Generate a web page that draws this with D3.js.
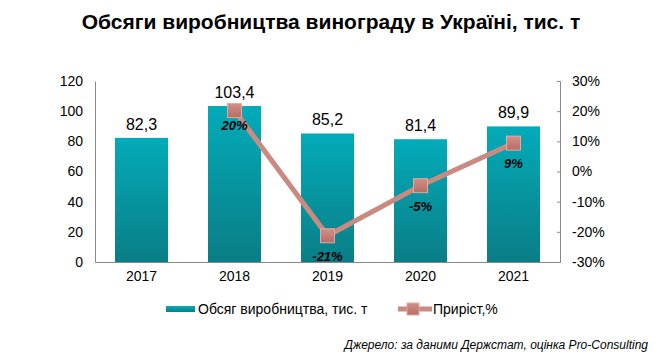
<!DOCTYPE html>
<html><head><meta charset="utf-8">
<script src="https://cdn.jsdelivr.net/npm/d3@7"></script>
<style>body{margin:0;background:#fff;}svg{display:block;font-family:"Liberation Sans",Arial,sans-serif;}</style>
</head><body>
<svg id="c" width="661" height="362"></svg>
<script>
const years = ["2017","2018","2019","2020","2021"];
const volume = [82.3, 103.4, 85.2, 81.4, 89.9];
const growth = [null, 20.2, -21.3, -4.7, 9.4];
const leftTicks = [0,20,40,60,80,100,120];
const rightTicks = [-30,-20,-10,0,10,20,30];

const svg = d3.select("#c");
const L = 95, R = 560, T = 81, B = 262;
const x = d3.scaleBand().domain(years).range([L,R]).paddingInner(0.43).paddingOuter(0.215);
const y = d3.scaleLinear().domain([0,120]).range([B,T]);
const y2 = d3.scaleLinear().domain([-30,30]).range([B,T]);
const pct = d => d3.format(".0f")(d).replace("\u2212","-") + "%";

const defs = svg.append("defs");
const g1 = defs.append("linearGradient").attr("id","bg").attr("x1",0).attr("y1",0).attr("x2",0).attr("y2",1);
g1.append("stop").attr("offset","0%").attr("stop-color","#03abb9");
g1.append("stop").attr("offset","100%").attr("stop-color","#0a7e86");
const g2 = defs.append("linearGradient").attr("id","mg").attr("x1",0).attr("y1",0).attr("x2",0).attr("y2",1);
g2.append("stop").attr("offset","0%").attr("stop-color","#d08f86");
g2.append("stop").attr("offset","100%").attr("stop-color","#b76d64");

svg.append("text").attr("x",331).attr("y",29).attr("text-anchor","middle")
  .attr("font-size",21).attr("font-weight","bold").attr("fill","#000")
  .text("Обсяги виробництва винограду в Україні, тис. т");

// bars
svg.selectAll("rect.bar").data(volume).enter().append("rect").attr("class","bar")
  .attr("x",(d,i)=>x(years[i])).attr("width",x.bandwidth())
  .attr("y",d=>y(d)).attr("height",d=>B-y(d)).attr("fill","url(#bg)");

svg.selectAll("text.vl").data(volume).enter().append("text").attr("class","vl")
  .attr("x",(d,i)=>x(years[i])+x.bandwidth()/2).attr("y",d=>y(d)-8)
  .attr("text-anchor","middle").attr("font-size",16).attr("fill","#000")
  .text(d=>d3.format(".1f")(d).replace(".",","));

// axes
const axL = svg.append("g").attr("transform",`translate(${L},0)`)
  .call(d3.axisLeft(y).tickValues(leftTicks).tickSize(0).tickPadding(12));
const axR = svg.append("g").attr("transform",`translate(${R},0)`)
  .call(d3.axisRight(y2).tickValues(rightTicks).tickSize(-3).tickPadding(12).tickFormat(pct));
const axB = svg.append("g").attr("transform",`translate(0,${B})`)
  .call(d3.axisBottom(x).tickSize(0).tickPadding(9));
[axL,axR,axB].forEach(a=>{
  a.select(".domain").attr("stroke","#898989");
  a.selectAll(".tick line").attr("stroke","#898989");
  a.selectAll("text").attr("font-size",14).attr("fill","#000").attr("font-family","Liberation Sans, Arial, sans-serif");
});

// line
const pts = growth.map((d,i)=>({d,i})).filter(p=>p.d!==null);
const line = d3.line().x(p=>x(years[p.i])+x.bandwidth()/2).y(p=>y2(p.d));
svg.append("path").datum(pts).attr("d",line).attr("fill","none")
  .attr("stroke","#c98a82").attr("stroke-width",5);
svg.selectAll("rect.mk").data(pts).enter().append("rect").attr("class","mk")
  .attr("x",p=>x(years[p.i])+x.bandwidth()/2-7).attr("y",p=>y2(p.d)-7)
  .attr("width",14).attr("height",14).attr("fill","url(#mg)")
  .attr("stroke","#e0aaa2").attr("stroke-width",1);
svg.selectAll("text.gl").data(pts).enter().append("text").attr("class","gl")
  .attr("x",p=>x(years[p.i])+x.bandwidth()/2).attr("y",p=>y2(p.d)+(p.i===1?19:25))
  .attr("text-anchor","middle").attr("font-size",13).attr("font-weight","bold").attr("font-style","italic")
  .attr("fill","#000").text(p=>pct(p.d));

// legend
svg.append("rect").attr("x",166).attr("y",306).attr("width",29).attr("height",6).attr("fill","url(#bg)");
svg.append("text").attr("x",198).attr("y",314).attr("font-size",14).attr("fill","#000").text("Обсяг виробництва, тис. т");
svg.append("line").attr("x1",398).attr("x2",432).attr("y1",309).attr("y2",309).attr("stroke","#c98a82").attr("stroke-width",5);
svg.append("rect").attr("x",407).attr("y",303).attr("width",12).attr("height",12).attr("fill","url(#mg)").attr("stroke","#e0aaa2");
svg.append("text").attr("x",433).attr("y",314).attr("font-size",14).attr("fill","#000").text("Приріст,%");

svg.append("text").attr("x",648).attr("y",349).attr("text-anchor","end").attr("font-size",12)
  .attr("font-style","italic").attr("fill","#000").text("Джерело: за даними Держстат, оцінка Pro-Consulting");
</script>
</body></html>
